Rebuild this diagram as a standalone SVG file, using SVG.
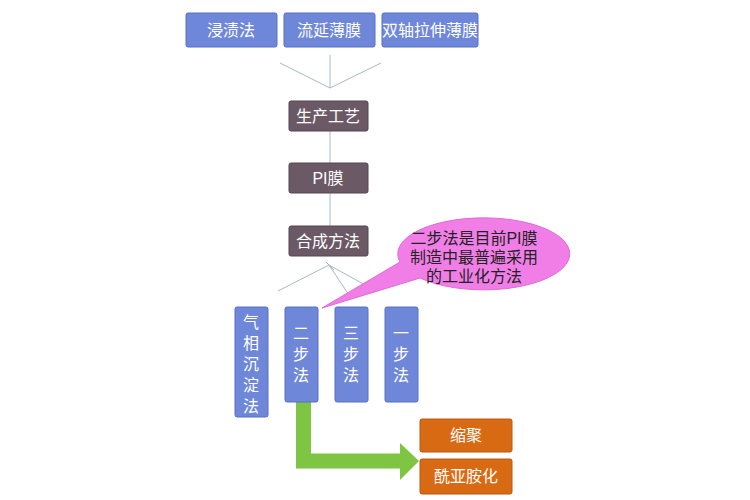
<svg xmlns="http://www.w3.org/2000/svg" width="750" height="500" viewBox="0 0 750 500">
<style>
text{font-family:"Liberation Sans","Noto Sans CJK SC",sans-serif;fill:#fff;font-size:16px;text-anchor:middle}
.b{fill:#6f87d8;stroke:#5670c4;stroke-width:1}
.g{fill:#6b5a66;stroke:#55454f}
.o{fill:#d96a14;stroke:#b85810}
.c line{stroke:#a8b8c8;stroke-width:1}
</style>
<rect width="750" height="500" fill="#fff"/>
<g class="c" id="connectors">
<line x1="280" y1="63" x2="330" y2="88"/><line x1="330" y1="55" x2="330" y2="88"/><line x1="381" y1="63" x2="330" y2="88"/>
<line x1="330" y1="131" x2="330" y2="163" stroke="#333"/><line x1="330" y1="193" x2="330" y2="226" stroke="#333"/>
<line x1="329" y1="265" x2="278" y2="291"/><line x1="329" y1="265" x2="349" y2="295"/><line x1="329" y1="265" x2="367" y2="286"/><line x1="326" y1="262" x2="334" y2="270"/>
<path d="M303.5 402 V461 H403" fill="none" stroke="#7dc542" stroke-width="15"/>
<polygon points="400,443 419,461 400,480" fill="#7dc542"/>
</g>
<g id="n1"><rect class="b" x="186" y="13" width="91" height="34" rx="2"/><text x="231" y="36">浸渍法</text></g>
<g id="n2"><rect class="b" x="284" y="13" width="91" height="34" rx="2"/><text x="329" y="36">流延薄膜</text></g>
<g id="n3"><rect class="b" x="382" y="13" width="96" height="34" rx="2"/><text x="430" y="36">双轴拉伸薄膜</text></g>
<g id="n4"><rect class="g" x="289" y="101" width="79" height="30" rx="2"/><text x="328" y="122">生产工艺</text></g>
<g id="n5"><rect class="g" x="289" y="163" width="79" height="30" rx="2"/><text x="328" y="184">PI膜</text></g>
<g id="n6"><rect class="g" x="289" y="226" width="79" height="30" rx="2"/><text x="328" y="247">合成方法</text></g>
<g id="callout"><path d="M322 308 L420 278 A86 36 0 1 0 400 262 Z" fill="#f07ee6" stroke="#e06ad6"/>
<text x="474" y="244" fill="#222" style="fill:#222">二步法是目前PI膜</text><text x="474" y="263" style="fill:#222">制造中最普遍采用</text><text x="474" y="282" style="fill:#222">的工业化方法</text></g>
<g id="n7"><rect class="b" x="235" y="307" width="33" height="110" rx="2"/><text x="251" y="328">气</text><text x="251" y="349">相</text><text x="251" y="370">沉</text><text x="251" y="391">淀</text><text x="251" y="412">法</text></g>
<g id="n8"><rect class="b" x="285" y="307" width="33" height="95" rx="2"/><text x="301" y="339">二</text><text x="301" y="360">步</text><text x="301" y="381">法</text></g>
<g id="n9"><rect class="b" x="335" y="307" width="33" height="95" rx="2"/><text x="351" y="339">三</text><text x="351" y="360">步</text><text x="351" y="381">法</text></g>
<g id="n10"><rect class="b" x="385" y="307" width="33" height="95" rx="2"/><text x="401" y="339">一</text><text x="401" y="360">步</text><text x="401" y="381">法</text></g>
<g id="n11"><rect class="o" x="420" y="419" width="92" height="33" rx="2"/><text x="466" y="441">缩聚</text></g>
<g id="n12"><rect class="o" x="420" y="459" width="92" height="35" rx="2"/><text x="466" y="482">酰亚胺化</text></g>
</svg>
